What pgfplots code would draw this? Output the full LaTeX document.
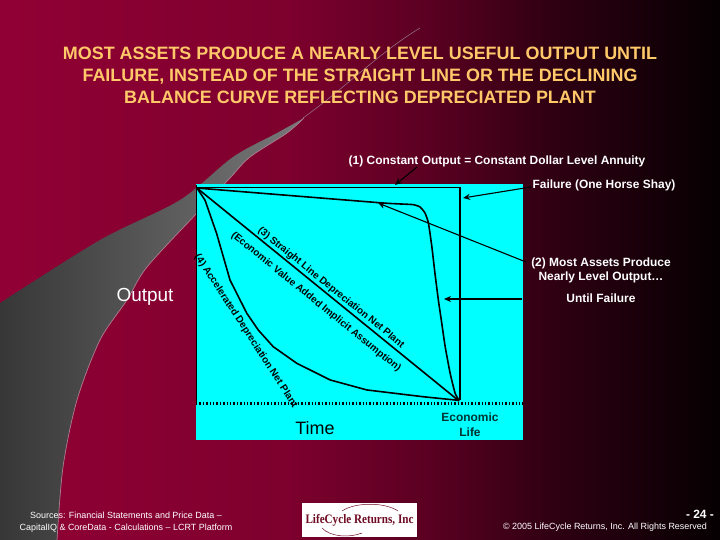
\documentclass[border=0pt]{standalone}
\usepackage{fontspec}
\setmainfont{Liberation Sans}
\newfontfamily\logofont{Liberation Serif}
\usepackage{pgfplots}
\pgfplotsset{compat=1.18}
\usetikzlibrary{arrows.meta}
\definecolor{bgA}{RGB}{145,0,52}
\definecolor{bgB}{RGB}{125,0,45}
\definecolor{bgC}{RGB}{90,0,33}
\definecolor{bgD}{RGB}{45,0,17}
\definecolor{bgE}{RGB}{5,0,2}
\definecolor{swA}{RGB}{55,55,55}
\definecolor{swB}{RGB}{120,120,120}
\definecolor{swEdge}{RGB}{175,125,145}
\definecolor{arcC}{RGB}{150,110,130}
\definecolor{titleC}{RGB}{255,200,105}
\definecolor{econC}{RGB}{0,50,50}
\definecolor{logoC}{RGB}{110,10,35}
\definecolor{boxC}{RGB}{0,255,255}
\pgfdeclarehorizontalshading{slidebg}{100bp}{color(0bp)=(bgA); color(25bp)=(bgA); color(45bp)=(bgB); color(54.86bp)=(bgC); color(63.89bp)=(bgD); color(75bp)=(bgE); color(100bp)=(bgE)}

% Output (normalised: 1 = full output, time 1 = economic life)
\pgfplotstableread{
t out
0 1.003
1.004 1.003
1.004 0.005
}\constantoutput
\pgfplotstableread{
t out
0 1
1 0
}\straightline
\pgfplotstableread{
t out
0 1.0
0.031 0.942
0.075 0.786
0.126 0.568
0.190 0.412
0.234 0.333
0.291 0.255
0.381 0.177
0.508 0.099
0.648 0.052
0.864 0.020
1.0 0.003
}\accelerated
\pgfplotstableread{
t out
0 1.0
0.687 0.932
0.763 0.926
0.826 0.922
0.851 0.911
0.870 0.883
0.883 0.836
0.896 0.726
0.908 0.600
0.921 0.474
0.934 0.365
0.947 0.255
0.966 0.130
0.985 0.036
1.0 0.003
}\mostassets

\begin{document}
\begin{tikzpicture}
\begin{scope}[x=1bp,y=-1bp,shift={(0bp,540bp)}]
\useasboundingbox (0,0) rectangle (720,540);
\shade[shading=slidebg] (0,0) rectangle (720,540);
% grey swoosh
\shade[left color=swA, right color=swB] (0,303) -- plot[smooth,tension=0.5] coordinates {(0,303) (100,240) (180,200) (233,157) (277,133) (304,118)} -- plot[smooth,tension=0.5] coordinates {(304,118) (287,133) (250,157) (230,178) (197,213) (147,267) (127,300) (100,340) (77,400) (63,467) (57,540)} -- (0,540) -- cycle;
\draw[swEdge, line width=0.7] plot[smooth,tension=0.5] coordinates {(304,118) (287,133) (250,157) (230,178) (197,213) (147,267) (127,300) (100,340) (77,400) (63,467) (57,540)};
\draw[arcC, line width=0.6] (303,118) .. controls (345,88) and (380,52) .. (420,28);

\node[text=titleC, font=\fontsize{18}{22}\selectfont\bfseries, align=center] at (360,75) {MOST ASSETS PRODUCE A NEARLY LEVEL USEFUL OUTPUT UNTIL\\FAILURE, INSTEAD OF THE STRAIGHT LINE OR THE DECLINING\\BALANCE CURVE REFLECTING DEPRECIATED PLANT};
\end{scope}

\begin{axis}[at={(196bp,100bp)}, anchor=south west, width=327bp, height=256bp, scale only axis,
  xmin=-0.0038, xmax=1.244, ymin=-0.183, ymax=1.019,
  axis background/.style={fill=boxC}, axis line style={draw=none},
  xtick=\empty, ytick=\empty, clip=false]
\addplot[black, line width=1.5bp] coordinates {(-0.001,-0.012) (-0.001,1.012)};
\addplot[black, line width=2.2bp, dash pattern=on 1.4bp off 2bp] coordinates {(-0.0038,-0.012) (1.244,-0.012)};
\addplot[black, line width=1.6bp] table[x=t,y=out] {\constantoutput};
\addplot[black, line width=1.6bp] table[x=t,y=out] {\straightline};
\addplot[black, line width=1.6bp] table[x=t,y=out] {\accelerated};
\addplot[black, line width=1.6bp, smooth, tension=0.3] table[x=t,y=out] {\mostassets};
\end{axis}

\begin{scope}[x=1bp,y=-1bp,shift={(0bp,540bp)}]
% chart labels
\node[rotate=-39, font=\fontsize{10}{12}\selectfont\bfseries] at (331,288) {(3) Straight Line Depreciation Net Plant};
\node[rotate=-39, font=\fontsize{10}{12}\selectfont\bfseries] at (316,302) {(Economic Value Added Implicit Assumption)};
\node[rotate=-57, font=\fontsize{10}{12}\selectfont\bfseries] at (246,331) {(4) Accelerated Depreciation Net Plant};
\node[font=\fontsize{18}{22}\selectfont] at (315,428) {Time};
\node[text=econC, font=\fontsize{12}{15}\selectfont\bfseries, align=center] at (470,425) {Economic\\Life};
\node[text=white, font=\fontsize{19}{22}\selectfont] at (145,297) {Output};

% annotations
\node[text=white, font=\fontsize{12}{14}\selectfont\bfseries] at (497,161) {(1) Constant Output = Constant Dollar Level Annuity};
\node[text=white, font=\fontsize{12}{14}\selectfont\bfseries] at (604,185) {Failure (One Horse Shay)};
\node[text=white, font=\fontsize{12}{14}\selectfont\bfseries, align=center] at (601,270) {(2) Most Assets Produce\\Nearly Level Output\ldots};
\node[text=white, font=\fontsize{12}{14}\selectfont\bfseries] at (601,298) {Until Failure};
\begin{scope}[black, line width=1.1bp, -{Stealth[length=7bp,width=6bp]}]
\draw (417,167) -- (395,185);
\draw (531,187) -- (463,198);
\draw (526,262) -- (378,203);
\draw (522,299) -- (444,299);
\end{scope}

% footer
\node[text=white, font=\fontsize{9}{12}\selectfont, align=center] at (126,522) {Sources: Financial Statements and Price Data --\\CapitalIQ \& CoreData - Calculations -- LCRT Platform};
\node[text=white, font=\fontsize{9}{12}\selectfont] at (605,527) {\textcopyright\ 2005 LifeCycle Returns, Inc. All Rights Reserved};
\node[text=white, font=\fontsize{12}{14}\selectfont\bfseries] at (700,514) {- 24 -};
\fill[white] (302,503) rectangle (417,537);
\node[text=logoC, font=\logofont\bfseries\fontsize{13}{15}\selectfont, xscale=0.86] at (359.5,520) {LifeCycle Returns, Inc};
\draw[logoC, line width=0.5] (342,511) .. controls (355,502) and (385,502) .. (398,511);
\draw[logoC, line width=0.5] (322,528) .. controls (330,537) and (350,538) .. (362,533);
\end{scope}
\end{tikzpicture}
\end{document}
